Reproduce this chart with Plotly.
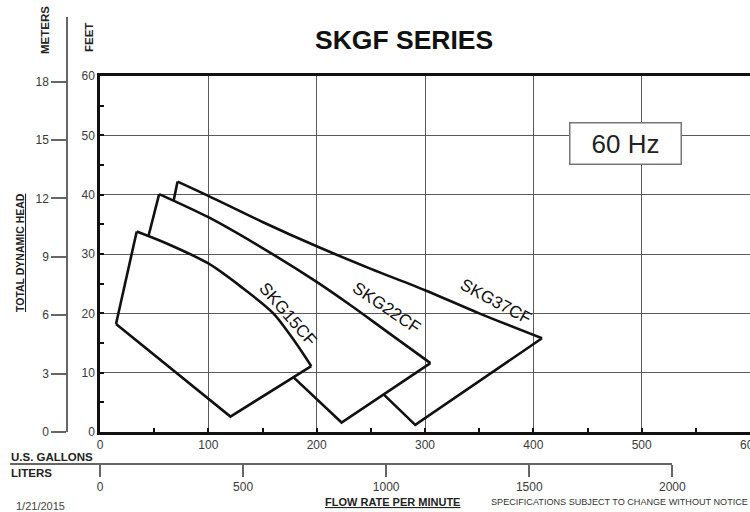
import plotly.graph_objects as go

# ---------------- data ----------------
# each outline: left edge (pts 0-1), pump curve (pts 1..k), then straight edges
skg15_gpm = [14.8, 33.9, 60, 100, 130, 160, 180, 195, 120.4, 14.8]
skg15_ft = [18.2, 33.8, 31.9, 28.4, 24.5, 20.0, 15.2, 11.1, 2.6, 18.2]

skg22_gpm = [44.7, 54.6, 100, 150, 200, 231, 262, 305, 223, 178.7]
skg22_ft = [33.0, 40.1, 36.2, 31.0, 25.3, 21.4, 17.3, 11.6, 1.6, 9.2]

skg37_gpm = [68, 71.6, 100, 150, 200, 250, 300, 350, 408, 291, 262]
skg37_ft = [39.0, 42.2, 39.8, 35.4, 31.3, 27.5, 23.9, 20.0, 15.8, 1.2, 6.3]

curve_last_index = [7, 7, 8]   # index of the last point of each pump curve

series_names = ["SKG15CF", "SKG22CF", "SKG37CF"]
label_gpm = [173.5, 264.0, 365.0]
label_ft = [19.8, 21.0, 22.0]
label_angle = [49, 34, 28]

gallon_ticks = [0, 100, 200, 300, 400, 500, 600]
feet_ticks = [0, 10, 20, 30, 40, 50, 60]
meter_ticks = [0, 3, 6, 9, 12, 15, 18]
liter_ticks = [0, 500, 1000, 1500, 2000]

title_text = "SKGF SERIES"
freq_text = "60 Hz"

# ---------------- geometry ----------------
W, H = 750, 512
PX_L, PX_R = 100, 750       # plot area x pixels
PX_B, PX_T = 432, 76        # plot area y pixels
GPM_MAX, FT_MAX = 600, 60
FT_PER_M = 3.28084
L_PER_GAL = 3.78541

px_per_gpm = (PX_R - PX_L) / GPM_MAX
px_per_ft = (PX_B - PX_T) / FT_MAX

# meters axis (free, extends above plot)
M_AXIS_X = 67
M_AXIS_TOP = 17
m_top = (PX_B - M_AXIS_TOP) / px_per_ft / FT_PER_M

# liters axis (free)
L_AXIS_Y = 464
L_AXIS_LEFT, L_AXIS_RIGHT = 10, 100 + 2000 / L_PER_GAL * px_per_gpm
l_left = (L_AXIS_LEFT - PX_L) / px_per_gpm * L_PER_GAL
l_right = 2000

FONT = "Liberation Sans, Arial, sans-serif"
TICKCOL = "#3a3a3a"
GRIDCOL = "#5a5a5a"
LINE = dict(color="#111111", width=2.6)

fig = go.Figure()

for xs, ys, k in [(skg15_gpm, skg15_ft, curve_last_index[0]),
                  (skg22_gpm, skg22_ft, curve_last_index[1]),
                  (skg37_gpm, skg37_ft, curve_last_index[2])]:
    # straight left edge
    fig.add_trace(go.Scatter(x=xs[0:2], y=ys[0:2], mode="lines", line=LINE,
                             hoverinfo="skip", showlegend=False))
    # smooth pump curve
    fig.add_trace(go.Scatter(x=xs[1:k + 1], y=ys[1:k + 1], mode="lines",
                             line=dict(LINE, shape="spline", smoothing=0.8),
                             hoverinfo="skip", showlegend=False))
    # straight lower edges
    fig.add_trace(go.Scatter(x=xs[k:], y=ys[k:], mode="lines", line=LINE,
                             hoverinfo="skip", showlegend=False))

# helper trace so the free meters / liters axes are built (own subplot, no grid)
fig.add_trace(go.Scatter(x=[None], y=[None], xaxis="x2", yaxis="y2",
                         showlegend=False, hoverinfo="skip"))

annotations = []
for name, gx, fy, ang in zip(series_names, label_gpm, label_ft, label_angle):
    annotations.append(dict(x=gx, y=fy, xref="x", yref="y", text=name,
                            showarrow=False, textangle=ang,
                            xanchor="center", yanchor="middle",
                            font=dict(family=FONT, size=17, color="#111111")))

def pxp(x, y):
    return x / W, 1 - y / H

# title
x, y = pxp(404, 40)
annotations.append(dict(x=x, y=y, xref="paper", yref="paper", text="<b>%s</b>" % title_text,
                        xanchor="center", yanchor="middle",
                        showarrow=False, font=dict(family=FONT, size=26.5, color="#111111")))
# 60 Hz box
annotations.append(dict(x=485, y=48.7, xref="x", yref="y", text=freq_text, showarrow=False,
                        xanchor="center", yanchor="middle",
                        font=dict(family=FONT, size=26, color="#222222"),
                        bgcolor="white", bordercolor="#777777", borderwidth=1.5,
                        width=108, height=38, borderpad=1))
# vertical axis titles
for txt, cx, cy, sz in [("<b>METERS</b>", 45, 30, 11.5), ("<b>FEET</b>", 89, 38, 11.5),
                        ("<b><u>TOTAL DYNAMIC HEAD</u></b>", 20, 253, 10.5)]:
    x, y = pxp(cx, cy)
    annotations.append(dict(x=x, y=y, xref="paper", yref="paper", text=txt, textangle=-90,
                            xanchor="center", yanchor="middle",
                            showarrow=False, font=dict(family=FONT, size=sz, color="#222222")))
# bottom texts
for txt, lx, cy, sz, anc, col in [("<b>U.S. GALLONS</b>", 9, 457, 11.5, "left", "#222222"),
                                  ("<b>LITERS</b>", 9, 473, 11.5, "left", "#222222"),
                                  ("1/21/2015", 14, 506, 11, "left", "#444444"),
                                  ("<b><u>FLOW RATE PER MINUTE</u></b>", 392.5, 502, 11, "center", "#222222"),
                                  ("SPECIFICATIONS SUBJECT TO CHANGE WITHOUT NOTICE", 750, 502, 9.1, "right", "#333333")]:
    x, y = pxp(lx, cy)
    annotations.append(dict(x=x, y=y, xref="paper", yref="paper", text=txt,
                            xanchor=anc, yanchor="middle",
                            showarrow=False, font=dict(family=FONT, size=sz, color=col)))

fig.update_layout(
    width=W, height=H, margin=dict(l=0, r=0, t=0, b=0, autoexpand=False),
    paper_bgcolor="white", plot_bgcolor="rgba(0,0,0,0)",
    showlegend=False,
    xaxis=dict(domain=[PX_L / W, PX_R / W], range=[0, GPM_MAX], anchor="y",
               tickvals=gallon_ticks, ticktext=[str(v) for v in gallon_ticks],
               ticklabeloverflow="allow",
               showgrid=True, gridcolor=GRIDCOL, gridwidth=1.3, zeroline=False,
               showline=True, linecolor="#111111", linewidth=2.5, mirror=True,
               ticks="inside", ticklen=4, tickwidth=2, tickcolor="#111111",
               minor=dict(dtick=50, tick0=0, ticks="inside", ticklen=4, tickwidth=2,
                          tickcolor="#111111", showgrid=False),
               tickfont=dict(family=FONT, size=12, color=TICKCOL), fixedrange=True),
    yaxis=dict(domain=[1 - PX_B / H, 1 - PX_T / H], range=[0, FT_MAX], anchor="x",
               tickvals=feet_ticks, showgrid=True, gridcolor=GRIDCOL, gridwidth=1.3,
               zeroline=False, showline=True, linecolor="#111111", linewidth=2.5,
               ticks="inside", ticklen=4, tickwidth=2, tickcolor="#111111",
               minor=dict(dtick=5, tick0=0, ticks="inside", ticklen=4, tickwidth=2,
                          tickcolor="#111111", showgrid=False),
               tickfont=dict(family=FONT, size=12, color=TICKCOL), fixedrange=True),
    yaxis2=dict(domain=[1 - PX_B / H, 1 - M_AXIS_TOP / H], range=[0, m_top],
                anchor="free", position=M_AXIS_X / W, side="left",
                tickvals=meter_ticks, showgrid=False, zeroline=False,
                showline=True, linecolor="#666666", linewidth=1.5,
                ticks="outside", ticklen=15, tickwidth=1.5, tickcolor="#666666",
                tickfont=dict(family=FONT, size=12, color=TICKCOL), fixedrange=True),
    xaxis2=dict(domain=[L_AXIS_LEFT / W, L_AXIS_RIGHT / W], range=[l_left, l_right],
                anchor="free", position=1 - L_AXIS_Y / H, side="bottom",
                tickvals=liter_ticks, showgrid=False, zeroline=False,
                showline=True, linecolor="#666666", linewidth=1.5,
                ticks="outside", ticklen=12, tickwidth=1.5, tickcolor="#666666",
                tickfont=dict(family=FONT, size=12, color=TICKCOL), fixedrange=True),
    annotations=annotations,
)

fig.write_html("out.html", config={"displayModeBar": False},
               post_script="document.body.style.margin='0';document.body.style.overflow='hidden';")
